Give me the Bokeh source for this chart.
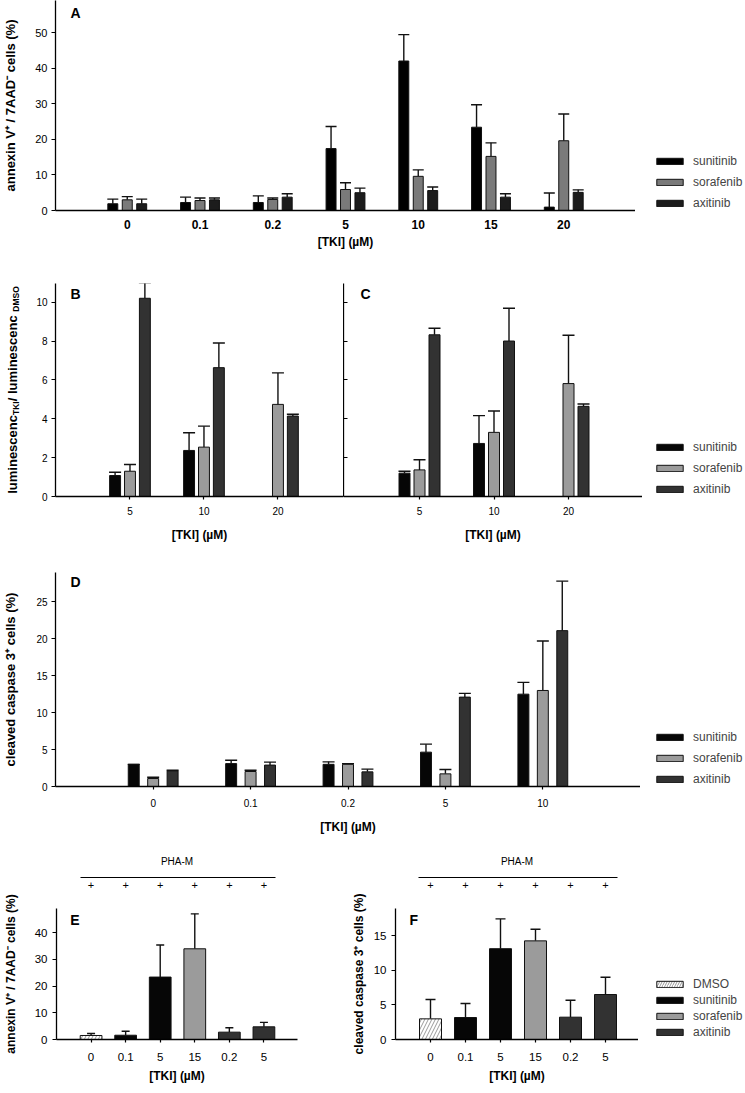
import math
import numpy as np
from bokeh.plotting import figure
from bokeh.models import (Range1d, FixedTicker, Whisker, TeeHead, ColumnDataSource,
                          Legend, LegendItem, Label, LinearAxis)
from bokeh.layouts import column, row
from bokeh.embed import file_html
from bokeh.resources import INLINE

NAN = float("nan")

# ---------------- data ----------------
drugs = ["sunitinib", "sorafenib", "axitinib"]

# A: annexin V+ / 7AAD- cells (%)
a_conc = ["0", "0.1", "0.2", "5", "10", "15", "20"]
a_sun = [1.9, 2.25, 2.25, 17.4, 42.0, 23.4, 0.95]
a_sun_sd = [1.3, 1.5, 1.85, 6.2, 7.4, 6.3, 3.95]
a_sor = [3.0, 2.8, 3.1, 5.9, 9.6, 15.2, 19.6]
a_sor_sd = [0.9, 0.7, 0.4, 1.9, 1.8, 3.8, 7.5]
a_axi = [1.9, 3.0, 3.75, 5.0, 5.6, 3.75, 5.1]
a_axi_sd = [1.3, 0.5, 0.95, 1.3, 1.0, 0.95, 0.7]

# B and C: luminescence ratio
bc_conc = ["5", "10", "20"]
b_sun = [1.08, 2.37, NAN]
b_sun_sd = [0.17, 0.91, NAN]
b_sor = [1.3, 2.54, 4.74]
b_sor_sd = [0.35, 1.08, 1.62]
b_axi = [10.2, 6.63, 4.14]
b_axi_sd = [0.8, 1.27, 0.09]
c_sun = [1.2, 2.73, NAN]
c_sun_sd = [0.1, 1.43, NAN]
c_sor = [1.37, 3.3, 5.81]
c_sor_sd = [0.52, 1.1, 2.49]
c_axi = [8.32, 8.0, 4.64]
c_axi_sd = [0.34, 1.69, 0.12]

# D: cleaved caspase 3+ cells (%)
d_conc = ["0", "0.1", "0.2", "5", "10"]
d_sun = [3.0, 3.1, 3.0, 4.65, 12.5]
d_sun_sd = [0.0, 0.46, 0.34, 1.08, 1.6]
d_sor = [1.08, 2.03, 3.0, 1.71, 13.0]
d_sor_sd = [0.18, 0.17, 0.1, 0.59, 6.7]
d_axi = [2.12, 2.9, 1.98, 12.1, 21.1]
d_axi_sd = [0.08, 0.4, 0.37, 0.5, 6.7]

# E and F: PHA-M stimulated
ef_conc = ["0", "0.1", "5", "15", "0.2", "5"]
ef_treat = ["DMSO", "sunitinib", "sunitinib", "sorafenib", "axitinib", "axitinib"]
ef_pha = ["+", "+", "+", "+", "+", "+"]
e_val = [1.5, 1.6, 23.4, 34.0, 2.75, 4.75]
e_sd = [0.75, 1.5, 12.0, 13.1, 1.65, 1.65]
f_val = [2.98, 3.17, 13.1, 14.23, 3.22, 6.49]
f_sd = [2.79, 2.02, 4.3, 1.67, 2.45, 2.5]

# ---------------- style ----------------
FONT = "Liberation Sans"
INK = "#111111"
A_COL = {"sunitinib": "#000000", "sorafenib": "#7a7a7a", "axitinib": "#1c1c1c"}
COL = {"DMSO": "#ffffff", "sunitinib": "#060606", "sorafenib": "#9b9b9b", "axitinib": "#323232"}
TKI = "[TKI] (µM)"


class G:
    """Panel geometry in page pixels: figure box (ox, oy, w, h), frame edges L R T B,
    first category centre c0 and category spacing step (px), y value at frame top."""
    def __init__(self, ox, oy, w, h, L, R, T, B, c0, step, ymax):
        self.ox, self.oy, self.w, self.h = ox, oy, w, h
        self.L, self.R, self.T, self.B = L, R, T, B
        self.c0, self.step, self.ymax = c0, step, ymax
        self.xs = (L - c0) / step
        self.xe = (R - c0) / step

    def x(self, px):
        return (px - self.c0) / self.step

    def y(self, py):
        return (self.B - py) / (self.B - self.T) * self.ymax

    def wu(self, px):
        return px / self.step


gA = G(0, 0, 635, 270, 53, 635, 0, 210, 125, 73, 59.0)
gB = G(33, 270, 310, 290, 53, 343, 283, 496, 128, 74.5, 10.96)
gC = G(343, 270, 299, 290, 343, 642, 283, 496, 419, 74.5, 10.96)
gD = G(0, 560, 640, 285, 53, 640, 572, 786, 151, 97.75, 28.97)
gE = G(0, 845, 348, 247, 53, 297, 908, 1039, 88, 35, 49.1)
gF = G(348, 845, 290, 247, 395, 638, 908, 1039, 430, 35, 18.9)


def make_fig(g):
    p = figure(width=g.w, height=g.h,
               x_range=Range1d(g.xs, g.xe), y_range=Range1d(0, g.ymax),
               min_border_left=int(round(g.L - g.ox)),
               min_border_right=int(round(g.ox + g.w - g.R)),
               min_border_top=int(round(g.T - g.oy)),
               min_border_bottom=int(round(g.oy + g.h - g.B)),
               output_backend="svg", toolbar_location=None)
    p.xgrid.visible = False
    p.ygrid.visible = False
    p.outline_line_color = None
    p.background_fill_color = "white"
    p.border_fill_color = "white"
    return p


def side_fig(g, x0, w, left=0):
    """Plain box next to panel g (same row, so its frame shares g's top and bottom);
    its data coordinates are page pixels (y downward)."""
    p = figure(width=w, height=g.h, title=None, x_range=Range1d(x0 + left, x0 + w),
               y_range=Range1d(g.B, g.T),
               min_border_left=left, min_border_right=0,
               min_border_top=int(round(g.T - g.oy)),
               min_border_bottom=int(round(g.oy + g.h - g.B)),
               x_axis_location=None, y_axis_location=None,
               output_backend="svg", toolbar_location=None)
    p.xgrid.visible = False
    p.ygrid.visible = False
    p.outline_line_color = None
    p.border_fill_color = "white"
    p.background_fill_color = "white"
    return p


def style_axes(p, xticks, xlabels, yticks, ytick_size, xtick_size,
               xbold=False, xtick_out=3, x_std=6, xt_std=4,
               x_title=TKI, y_title=None, y_title_size="13px",
               y_std=4, yt_std=8):
    xa, ya = p.xaxis[0], p.yaxis[0]
    for ax in (xa, ya):
        ax.axis_line_color = "black"
        ax.axis_line_width = 1.3
        ax.major_tick_line_color = "black"
        ax.major_tick_line_width = 1.2
        ax.minor_tick_line_color = None
        ax.major_tick_in = 0
        ax.major_label_text_font = FONT
        ax.major_label_text_color = "black"
        ax.axis_label_text_font = FONT
        ax.axis_label_text_font_style = "bold"
        ax.axis_label_text_color = "black"
    xa.ticker = FixedTicker(ticks=list(xticks))
    xa.major_label_overrides = dict(zip(xticks, xlabels))
    xa.major_tick_out = xtick_out
    xa.major_label_text_font_size = xtick_size
    xa.major_label_text_font_style = "bold" if xbold else "normal"
    xa.major_label_standoff = x_std
    if x_title:
        xa.axis_label = x_title
        xa.axis_label_text_font_size = "12px"
        xa.axis_label_standoff = xt_std
    ya.ticker = FixedTicker(ticks=list(yticks))
    ya.major_tick_out = 4
    ya.major_label_text_font_size = ytick_size
    ya.major_label_standoff = y_std
    if y_title:
        ya.axis_label = y_title
        ya.axis_label_text_font_size = y_title_size
        ya.axis_label_standoff = yt_std


def bars(p, xs, vals, sds, width, color, cap, lw=1.4):
    v = np.array(vals, dtype=float)
    s = np.array(sds, dtype=float)
    src = ColumnDataSource(dict(x=np.array(xs, dtype=float), top=v, upper=v + s))
    r = p.vbar(x="x", top="top", bottom=0, width=width, source=src,
               fill_color=color, line_color=INK, line_width=1)
    p.add_layout(Whisker(source=src, base="x", lower="top", upper="upper",
                         dimension="height", line_color=INK, line_width=lw,
                         upper_head=TeeHead(size=cap, line_color=INK, line_width=lw),
                         lower_head=None))
    return r


def legend_fig(g, x0, w, names, colors, gx, label_height=14, spacing=7):
    """Legend box to the right of panel g, bottom row level with the panel's baseline;
    gx is the page x of the swatch left edge."""
    p = side_fig(g, x0, w, left=int(round(gx - 3.3 - x0)))
    items = []
    for n in names:
        # legend swatch only: a glyph with one empty (NaN) row, nothing is drawn in the plot
        r = p.vbar(x=[NAN], top=[NAN], width=1, fill_color=colors[n], line_color=INK,
                   line_width=1)
        if n == "DMSO":
            r.glyph.hatch_pattern = "right_diagonal_line"
            r.glyph.hatch_color = "#808080"
            r.glyph.hatch_weight = 0.8
            r.glyph.hatch_scale = 5
        items.append(LegendItem(label=n, renderers=[r]))
    p.add_layout(Legend(items=items, location="bottom_left",
                        glyph_width=33, glyph_height=8, label_standoff=7,
                        label_text_font=FONT, label_text_font_size="12px",
                        label_height=label_height, spacing=spacing, padding=0, margin=0,
                        border_line_color=None, background_fill_alpha=0))
    return p


def letter(p, g, text, px, py):
    p.add_layout(Label(x=g.x(px), y=g.y(py), text=text, text_align="left",
                       text_baseline="top", text_font=FONT, text_font_style="bold",
                       text_font_size="14px", text_color="black"))


def grouped(p, g, n, series, offset_px, width_px, cap):
    off, bw = g.wu(offset_px), g.wu(width_px)
    out = []
    for k, (vals, sds, col) in enumerate(series):
        xs = [i + (k - 1) * off for i in range(n)]
        out.append(bars(p, xs, vals, sds, bw, col, cap))
    return out


# ---------------- panel A ----------------
pA = make_fig(gA)
grouped(pA, gA, len(a_conc),
        [(a_sun, a_sun_sd, A_COL["sunitinib"]), (a_sor, a_sor_sd, A_COL["sorafenib"]),
         (a_axi, a_axi_sd, A_COL["axitinib"])], 14.5, 10, 11)
style_axes(pA, list(range(len(a_conc))), a_conc, [0, 10, 20, 30, 40, 50], "11px", "12px",
           xbold=True, xtick_out=0, x_std=9, xt_std=3,
           y_title="annexin V⁺ / 7AAD⁻ cells (%)", y_title_size="13px", yt_std=14)
letter(pA, gA, "A", 68, 4)
legA = legend_fig(gA, 635, 110, drugs, A_COL, 656)

# ---------------- panels B, C ----------------
bc_series = [
    (gB, [(b_sun, b_sun_sd, COL["sunitinib"]), (b_sor, b_sor_sd, COL["sorafenib"]),
          (b_axi, b_axi_sd, COL["axitinib"])]),
    (gC, [(c_sun, c_sun_sd, COL["sunitinib"]), (c_sor, c_sor_sd, COL["sorafenib"]),
          (c_axi, c_axi_sd, COL["axitinib"])]),
]
pB = make_fig(gB)
pC = make_fig(gC)
for p, (g, series) in zip((pB, pC), bc_series):
    grouped(p, g, len(bc_conc), series, 15, 11, 12)
    style_axes(p, list(range(len(bc_conc))), bc_conc, [0, 2, 4, 6, 8, 10], "10px", "10px",
               xtick_out=3, x_std=7, xt_std=10)
# C: y axis line with ticks only
cy = pC.yaxis[0]
cy.ticker = FixedTicker(ticks=[], minor_ticks=[0, 2, 4, 6, 8, 10])
cy.major_tick_out = 0
cy.major_label_standoff = 0
cy.minor_tick_line_color = "black"
cy.minor_tick_line_width = 1.2
cy.minor_tick_in = 4
cy.minor_tick_out = 0
letter(pB, gB, "B", 68, 285)
letter(pC, gC, "C", 360, 285)
legBC = legend_fig(gC, 642, 103, drugs, COL, 656)

# y title of B (with subscripts), drawn in a strip left of panel B
stripB = side_fig(gB, 0, 33)
AB = {'l': .278, 'u': .611, 'm': .889, 'i': .278, 'n': .611, 'e': .556, 's': .556, 'c': .556,
      ' ': .278, '/': .278, 'T': .611, 'K': .722, 'I': .278, 'D': .722, 'M': .833, 'S': .667, 'O': .778}


def tw(s, size):
    return sum(AB[c] for c in s) * size


pieces = [("luminescenc", 13, 0), ("TKI", 8.5, 3.5), (" / luminescenc", 13, 0), ("DMSO", 8.5, 3.5)]
total = sum(tw(t, s) for t, s, _ in pieces)
ypos = (gB.T + gB.B) / 2 + total / 2
for t, s, dxp in pieces:
    wpx = tw(t, s)
    stripB.add_layout(Label(x=12 + dxp, y=ypos - wpx / 2, text=t, angle=math.pi / 2,
                            text_align="center", text_baseline="middle", text_font=FONT,
                            text_font_style="bold", text_font_size=f"{s}px", text_color="black"))
    ypos -= wpx

# ---------------- panel D ----------------
pD = make_fig(gD)
grouped(pD, gD, len(d_conc),
        [(d_sun, d_sun_sd, COL["sunitinib"]), (d_sor, d_sor_sd, COL["sorafenib"]),
         (d_axi, d_axi_sd, COL["axitinib"])], 19.5, 11, 12)
style_axes(pD, list(range(len(d_conc))), d_conc, [0, 5, 10, 15, 20, 25], "10px", "10px",
           xtick_out=3, x_std=9, xt_std=10,
           y_title="cleaved caspase 3⁺ cells (%)", y_title_size="13px", yt_std=15)
letter(pD, gD, "D", 68, 573)
legD = legend_fig(gD, 640, 105, drugs, COL, 656)


# ---------------- panels E, F ----------------
def ef_panel(g, vals, sds, yticks, y_title, cap, letter_txt, letter_px, line_px, yt_std):
    p = make_fig(g)
    bw = g.wu(22)
    for t in ["DMSO", "sunitinib", "sorafenib", "axitinib"]:
        idx = [i for i, tt in enumerate(ef_treat) if tt == t]
        r = bars(p, idx, [vals[i] for i in idx], [sds[i] for i in idx], bw, COL[t], cap)
        if t == "DMSO":
            r.glyph.hatch_pattern = "right_diagonal_line"
            r.glyph.hatch_color = "#808080"
            r.glyph.hatch_weight = 0.8
            r.glyph.hatch_scale = 7
    n = len(ef_conc)
    style_axes(p, list(range(n)), ef_conc, yticks, "11.5px", "11.5px",
               xtick_out=3, x_std=10, xt_std=5,
               y_title=y_title, y_title_size="12px", y_std=5, yt_std=yt_std)
    plus = LinearAxis(ticker=FixedTicker(ticks=list(range(n))),
                      major_label_overrides={i: s for i, s in enumerate(ef_pha)},
                      axis_line_color=None, major_tick_line_color=None,
                      minor_tick_line_color=None, major_tick_out=0, major_tick_in=0,
                      major_label_standoff=20,
                      major_label_text_font=FONT, major_label_text_font_size="11px",
                      major_label_text_color="black")
    p.add_layout(plus, "above")
    bar_line = LinearAxis(ticker=FixedTicker(ticks=[]), bounds=(g.x(line_px[0]), g.x(line_px[1])),
                          axis_label="PHA-M", axis_line_color="black", axis_line_width=1,
                          major_tick_line_color=None, minor_tick_line_color=None,
                          major_tick_out=0, major_tick_in=0, major_label_standoff=0,
                          axis_label_standoff=11,
                          axis_label_text_font=FONT, axis_label_text_font_size="10px",
                          axis_label_text_font_style="normal", axis_label_text_color="black")
    p.add_layout(bar_line, "above")
    letter(p, g, letter_txt, letter_px[0], letter_px[1])
    return p


pE = ef_panel(gE, e_val, e_sd, [0, 10, 20, 30, 40], "annexin V⁺ / 7AAD⁻ cells (%)", 8,
              "E", (67, 911), (77, 275), 14)
pF = ef_panel(gF, f_val, f_sd, [0, 5, 10, 15], "cleaved caspase 3⁺ cells (%)", 10,
              "F", (409, 911), (418, 617), 5)
legF = legend_fig(gF, 638, 107, ["DMSO"] + drugs, COL, 656, label_height=14, spacing=2)

layout = column(row(pA, legA), row(stripB, pB, pC, legBC), row(pD, legD), row(pE, pF, legF))
open("out.html", "w").write(file_html(layout, INLINE))
